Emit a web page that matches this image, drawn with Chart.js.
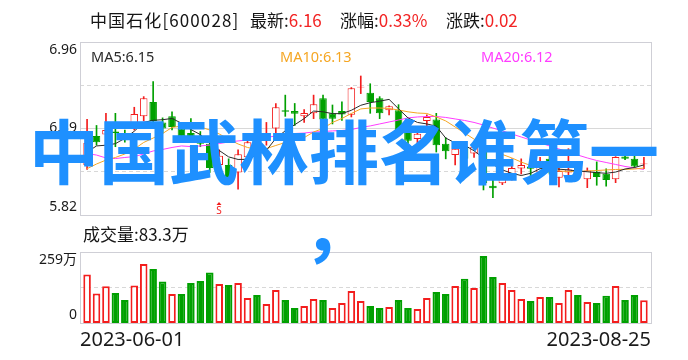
<!DOCTYPE html>
<html lang="zh-CN">
<head>
<meta charset="utf-8">
<title>中国石化 600028</title>
<script src="https://cdn.jsdelivr.net/npm/chart.js@4.4.1/dist/chart.umd.min.js"></script>
<style>
html,body{margin:0;padding:0;background:#fff;}
#page{position:relative;width:688px;height:360px;overflow:hidden;background:#fff;}
#page canvas{position:absolute;left:0;top:0;}
.txt{position:absolute;white-space:nowrap;line-height:20px;height:20px;font-family:"Noto Sans CJK SC","Noto Sans",sans-serif;color:#151515;}
.v{color:#f22424;}
.ma{font-family:"Noto Sans","Noto Sans CJK SC",sans-serif;font-size:14.5px;}
#overlay{position:absolute;left:0;top:111px;width:688px;text-align:center;font-family:"Noto Sans CJK SC",sans-serif;font-weight:700;font-size:70px;line-height:76px;color:#1e90ff;white-space:nowrap;pointer-events:none;}
#overlay span{position:relative;left:-6px;}
</style>
</head>
<body>
<div id="page">
  <canvas id="priceCanvas" width="688" height="360"></canvas>
  <canvas id="volCanvas" width="688" height="360"></canvas>
</div>
<script>
// ---------------- data ----------------
const stockName = '中国石化';
const stockCode = '600028';
const dates = [
  '2023-06-01','2023-06-02','2023-06-05','2023-06-06','2023-06-07','2023-06-08','2023-06-09','2023-06-12','2023-06-13','2023-06-14',
  '2023-06-15','2023-06-16','2023-06-19','2023-06-20','2023-06-21','2023-06-26','2023-06-27','2023-06-28','2023-06-29','2023-06-30',
  '2023-07-03','2023-07-04','2023-07-05','2023-07-06','2023-07-07','2023-07-10','2023-07-11','2023-07-12','2023-07-13','2023-07-14',
  '2023-07-17','2023-07-18','2023-07-19','2023-07-20','2023-07-21','2023-07-24','2023-07-25','2023-07-26','2023-07-27','2023-07-28',
  '2023-07-31','2023-08-01','2023-08-02','2023-08-03','2023-08-04','2023-08-07','2023-08-08','2023-08-09','2023-08-10','2023-08-11',
  '2023-08-14','2023-08-15','2023-08-16','2023-08-17','2023-08-18','2023-08-21','2023-08-22','2023-08-23','2023-08-24','2023-08-25'
];
const open = [6.15,6.34,6.35,6.37,6.36,6.42,6.47,6.565,6.43,6.47, 6.39,6.36,6.34,6.29,6.15,6.15,6.10,6.20,6.22,6.32,
  6.39,6.51,6.505,6.47,6.49,6.59,6.49,6.505,6.48,6.66, 6.625,6.59,6.51,6.51,6.37,6.32,6.44,6.45,6.29,6.215,
  6.27,6.225,6.26,6.013,6.03,6.09,6.127,6.14,6.10,6.19, 6.065,6.10,6.13,6.055,6.103,6.092,6.055,6.205,6.19,6.155];
const high = [6.45,6.41,6.49,6.49,6.38,6.53,6.60,6.70,6.46,6.50, 6.42,6.455,6.37,6.31,6.25,6.19,6.25,6.31,6.33,6.43,
  6.555,6.61,6.555,6.515,6.61,6.61,6.545,6.565,6.66,6.736, 6.685,6.60,6.54,6.547,6.40,6.37,6.48,6.49,6.33,6.28,
  6.30,6.28,6.28,6.08,6.12,6.19,6.19,6.17,6.20,6.22, 6.17,6.257,6.15,6.13,6.17,6.125,6.205,6.26,6.26,6.20];
const low = [6.12,6.28,6.33,6.27,6.30,6.38,6.44,6.42,6.36,6.38, 6.30,6.30,6.27,6.10,6.13,6.05,5.99,6.17,6.20,6.28,
  6.36,6.47,6.41,6.43,6.455,6.43,6.42,6.444,6.466,6.62, 6.49,6.455,6.48,6.36,6.28,6.28,6.40,6.235,6.19,6.15,
  6.15,6.20,5.985,5.935,6.02,6.05,6.09,6.07,6.08,6.09, 6.005,6.07,6.06,6.00,6.016,6.01,6.033,6.184,6.13,6.125];
const close = [6.295,6.30,6.38,6.36,6.345,6.485,6.59,6.44,6.39,6.40, 6.335,6.32,6.29,6.13,6.21,6.07,6.22,6.30,6.28,6.36,
  6.53,6.50,6.488,6.492,6.55,6.45,6.455,6.483,6.655,6.665, 6.565,6.49,6.536,6.38,6.31,6.355,6.466,6.28,6.24,6.257,
  6.19,6.27,6.03,5.997,6.095,6.13,6.15,6.125,6.14,6.10, 6.11,6.12,6.08,6.114,6.07,6.05,6.202,6.19,6.14,6.16];
const prevClose = 6.15;            // close of the day before the window
const volume = [177,108,134,109,84,137,215,197,151,106, 106,146,153,184,142,139,146,91,102,69,
  120,84,55,62,88,84,55,73,117,80, 62,55,58,84,55,51,91,113,106,135,
  161,128,244,168,146,120,88,80,95,95, 73,120,102,77,73,99,135,84,102,83.3];   // 万
const ma5 = [6.235,6.275,6.28,6.29,6.325,6.372,6.43,6.444,6.448,6.456, 6.425,6.383,6.35,6.292,6.245,6.203,6.186,6.187,6.215,6.246,
  6.325,6.375,6.415,6.455,6.505,6.50,6.488,6.488,6.51,6.543, 6.56,6.57,6.582,6.52,6.46,6.43,6.42,6.405,6.327,6.295,
  6.28,6.243,6.196,6.153,6.117,6.095,6.08,6.095,6.125,6.13, 6.122,6.117,6.11,6.105,6.099,6.095,6.103,6.123,6.133,6.15];
const ma10 = [6.125,6.156,6.182,6.199,6.222,6.255,6.298,6.327,6.357,6.397, 6.406,6.41,6.40,6.38,6.354,6.32,6.288,6.265,6.252,6.258,
  6.278,6.298,6.314,6.33,6.367,6.39,6.43,6.456,6.489,6.519, 6.525,6.525,6.522,6.512,6.50,6.492,6.489,6.466,6.44,6.40,
  6.36,6.32,6.28,6.248,6.219,6.196,6.169,6.146,6.13,6.12, 6.11,6.107,6.107,6.11,6.113,6.117,6.12,6.121,6.123,6.13];
const ma20 = [6.225,6.215,6.196,6.192,6.199,6.205,6.222,6.242,6.252,6.265, 6.275,6.271,6.275,6.281,6.291,6.301,6.308,6.314,6.321,6.331,
  6.341,6.354,6.357,6.36,6.367,6.37,6.374,6.377,6.383,6.397, 6.407,6.42,6.433,6.446,6.46,6.466,6.469,6.469,6.463,6.453,
  6.443,6.43,6.413,6.393,6.374,6.354,6.334,6.314,6.295,6.275, 6.255,6.235,6.215,6.196,6.179,6.166,6.153,6.14,6.13,6.12];
const priceTicks = [5.82, 6.39, 6.96];
const volTicks = [0, 259];
const maNames = ['MA5', 'MA10', 'MA20'];
const signalIndex = [14];
const signalText = ['S'];
const overlayLines = ['中国武林排名谁第一', '，'];

// ---------------- styles ----------------
const RED = '#f31d1d', GREEN = '#00a000', TEXT = '#1a1a1a';
const MA_COLORS = ['#2a2a2a', '#f5a623', '#ff3cff'];
const FONT = "'Noto Sans','Noto Sans CJK SC',sans-serif";

const page = document.getElementById('page');
function addText(parts, left, top, size, cls, extra) {
  const d = document.createElement('div');
  d.className = 'txt' + (cls ? ' ' + cls : '');
  d.style.left = left + 'px'; d.style.top = top + 'px';
  if (size) d.style.fontSize = size + 'px';
  if (extra) Object.assign(d.style, extra);
  parts.forEach(p => { const s = document.createElement('span'); s.textContent = p[0]; if (p[1]) s.className = p[1]; if (p[2]) s.style.color = p[2]; d.appendChild(s); });
  page.appendChild(d);
  return d;
}

// header
const n = close.length;
const last = close[n - 1], chg = last - close[n - 2], pct = chg / close[n - 2] * 100;
addText([[stockName + '[' + stockCode + ']']], 90, 10, 17, '', { letterSpacing: '1.1px' });
addText([['最新:'], [last.toFixed(2), 'v']], 250, 10, 17);
addText([['涨幅:'], [pct.toFixed(2) + '%', 'v']], 340, 10, 17);
addText([['涨跌:'], [chg.toFixed(2), 'v']], 446, 10, 17);
// MA labels
const maLast = [ma5[n - 1], ma10[n - 1], ma20[n - 1]];
[91, 280, 481].forEach((x, k) => addText([[maNames[k] + ':' + maLast[k].toFixed(2), '', MA_COLORS[k]]], x, 46, 0, 'ma'));
// volume label
addText([['成交量:' + volume[n - 1].toFixed(1) + '万']], 83, 224, 17);
// overlay
const ov = document.createElement('div'); ov.id = 'overlay';
overlayLines.forEach((t, i) => {
  if (i) { ov.appendChild(document.createElement('br')); const s = document.createElement('span'); s.textContent = t; ov.appendChild(s); }
  else ov.appendChild(document.createTextNode(t));
});
page.appendChild(ov);

// ---------------- chart helpers ----------------
const xs = dates.map((d, i) => i);
const isUp = i => close[i] >= open[i];
const volUp = i => close[i] >= (i ? close[i - 1] : prevClose);
const edgeLabel = (txt, i, cnt) => i === 0 ? [txt, ''] : (i === cnt - 1 ? ['', txt] : txt);

function makeFrame(lines) {
  return {
    id: 'frame',
    beforeDatasetsDraw(chart) {
      const { ctx, chartArea: a } = chart; const y = chart.scales.y;
      ctx.save(); ctx.lineWidth = 1;
      lines.forEach(l => {
        const py = Math.floor(y.getPixelForValue(y.min + (y.max - y.min) * l.f)) + 0.5;
        ctx.strokeStyle = '#d8d8d8';
        ctx.setLineDash(l.dash ? [4, 3] : []);
        ctx.beginPath(); ctx.moveTo(a.left, py); ctx.lineTo(a.right, py); ctx.stroke();
      });
      ctx.setLineDash([]); ctx.strokeStyle = '#cfcfd6';
      const L = Math.floor(a.left) + 0.5, T = Math.floor(a.top) + 0.5, R = Math.floor(a.right) + 0.5, B = Math.floor(a.bottom) + 0.5;
      ctx.strokeRect(L, T, R - L, B - T);
      ctx.restore();
    }
  };
}
const signalPlugin = {
  id: 'signals',
  afterDatasetsDraw(chart) {
    const { ctx, chartArea: a, scales: { x } } = chart;
    ctx.save(); ctx.fillStyle = RED; ctx.font = "10px 'Noto Sans'"; ctx.textAlign = 'center'; ctx.textBaseline = 'alphabetic';
    signalIndex.forEach((idx, k) => {
      const px = Math.round(x.getPixelForValue(idx));
      const base = a.bottom - 1;
      ctx.fillText(signalText[k], px, base);
      ctx.beginPath(); ctx.moveTo(px, base - 12); ctx.lineTo(px - 2.5, base - 9); ctx.lineTo(px + 2.5, base - 9); ctx.closePath(); ctx.fill();
    });
    ctx.restore();
  }
};
const xCommon = { type: 'linear', min: -0.75, max: 59.75, offset: false };
const tickFont = { family: FONT, size: 14 };

// ---------------- price chart ----------------
new Chart(document.getElementById('priceCanvas'), {
  type: 'bar',
  data: {
    datasets: [
      { type: 'line', data: xs.map(i => ({ x: i, y: ma5[i] })), borderColor: MA_COLORS[0], borderWidth: 1, pointRadius: 0, tension: 0, order: 0 },
      { type: 'line', data: xs.map(i => ({ x: i, y: ma10[i] })), borderColor: MA_COLORS[1], borderWidth: 1, pointRadius: 0, tension: 0, order: 0 },
      { type: 'line', data: xs.map(i => ({ x: i, y: ma20[i] })), borderColor: MA_COLORS[2], borderWidth: 1, pointRadius: 0, tension: 0, order: 0 },
      { type: 'bar', data: xs.map(i => ({ x: i, y: [open[i], close[i]] })),
        backgroundColor: c => isUp(c.dataIndex) ? '#ffffff' : GREEN,
        borderColor: c => isUp(c.dataIndex) ? RED : GREEN,
        borderWidth: 1, borderSkipped: false, grouped: false, barPercentage: 0.8, categoryPercentage: 1, order: 1 },
      { type: 'bar', data: xs.map(i => ({ x: i, y: [low[i], high[i]] })),
        backgroundColor: c => isUp(c.dataIndex) ? RED : GREEN,
        borderWidth: 0, barThickness: 1, grouped: false, order: 2 }
    ]
  },
  options: {
    responsive: false, animation: false, events: [],
    layout: { padding: { left: 0, right: 37, top: 42, bottom: 145 } },
    plugins: { legend: { display: false }, tooltip: { enabled: false } },
    scales: {
      x: Object.assign({}, xCommon, { display: false }),
      y: {
        min: priceTicks[0], max: priceTicks[priceTicks.length - 1],
        afterBuildTicks: s => { s.ticks = priceTicks.map(v => ({ value: v })); },
        afterFit: s => { s.width = 80; },
        ticks: { padding: 3, color: TEXT, font: tickFont, callback: (v, i, t) => edgeLabel(Number(v).toFixed(2), i, t.length) },
        grid: { display: false, drawTicks: false }, border: { display: false }
      }
    }
  },
  plugins: [makeFrame([{ f: 0.25, dash: true }, { f: 0.5, dash: false }, { f: 0.75, dash: true }]), signalPlugin]
});

// ---------------- volume chart ----------------
new Chart(document.getElementById('volCanvas'), {
  type: 'bar',
  data: {
    datasets: [{
      data: xs.map(i => ({ x: i, y: volume[i] })),
      backgroundColor: c => volUp(c.dataIndex) ? '#ffffff' : GREEN,
      borderColor: c => volUp(c.dataIndex) ? RED : GREEN,
      borderWidth: 2, borderSkipped: false, grouped: false, barPercentage: 0.8, categoryPercentage: 1
    }]
  },
  options: {
    responsive: false, animation: false, events: [],
    layout: { padding: { left: 0, right: 37, top: 252, bottom: 0 } },
    plugins: { legend: { display: false }, tooltip: { enabled: false } },
    scales: {
      x: Object.assign({}, xCommon, {
        afterBuildTicks: s => { s.ticks = [{ value: s.min }, { value: s.max }]; },
        afterFit: s => { s.height = 37; },
        ticks: { autoSkip: false, maxRotation: 0, align: 'inner', padding: 5, color: TEXT, font: { family: FONT, size: 20 },
          callback: (v, i) => i === 0 ? dates[0] : dates[dates.length - 1] },
        grid: { display: false, drawTicks: false }, border: { display: false }
      }),
      y: {
        min: volTicks[0], max: volTicks[volTicks.length - 1],
        afterBuildTicks: s => { s.ticks = volTicks.map(v => ({ value: v })); },
        afterFit: s => { s.width = 80; },
        ticks: { padding: 3, color: TEXT, font: tickFont, callback: (v, i, t) => edgeLabel(v === 0 ? '0' : v + '万', i, t.length) },
        grid: { display: false, drawTicks: false }, border: { display: false }
      }
    }
  },
  plugins: [makeFrame([{ f: 0.5, dash: true }])]
});
</script>
</body>
</html>
